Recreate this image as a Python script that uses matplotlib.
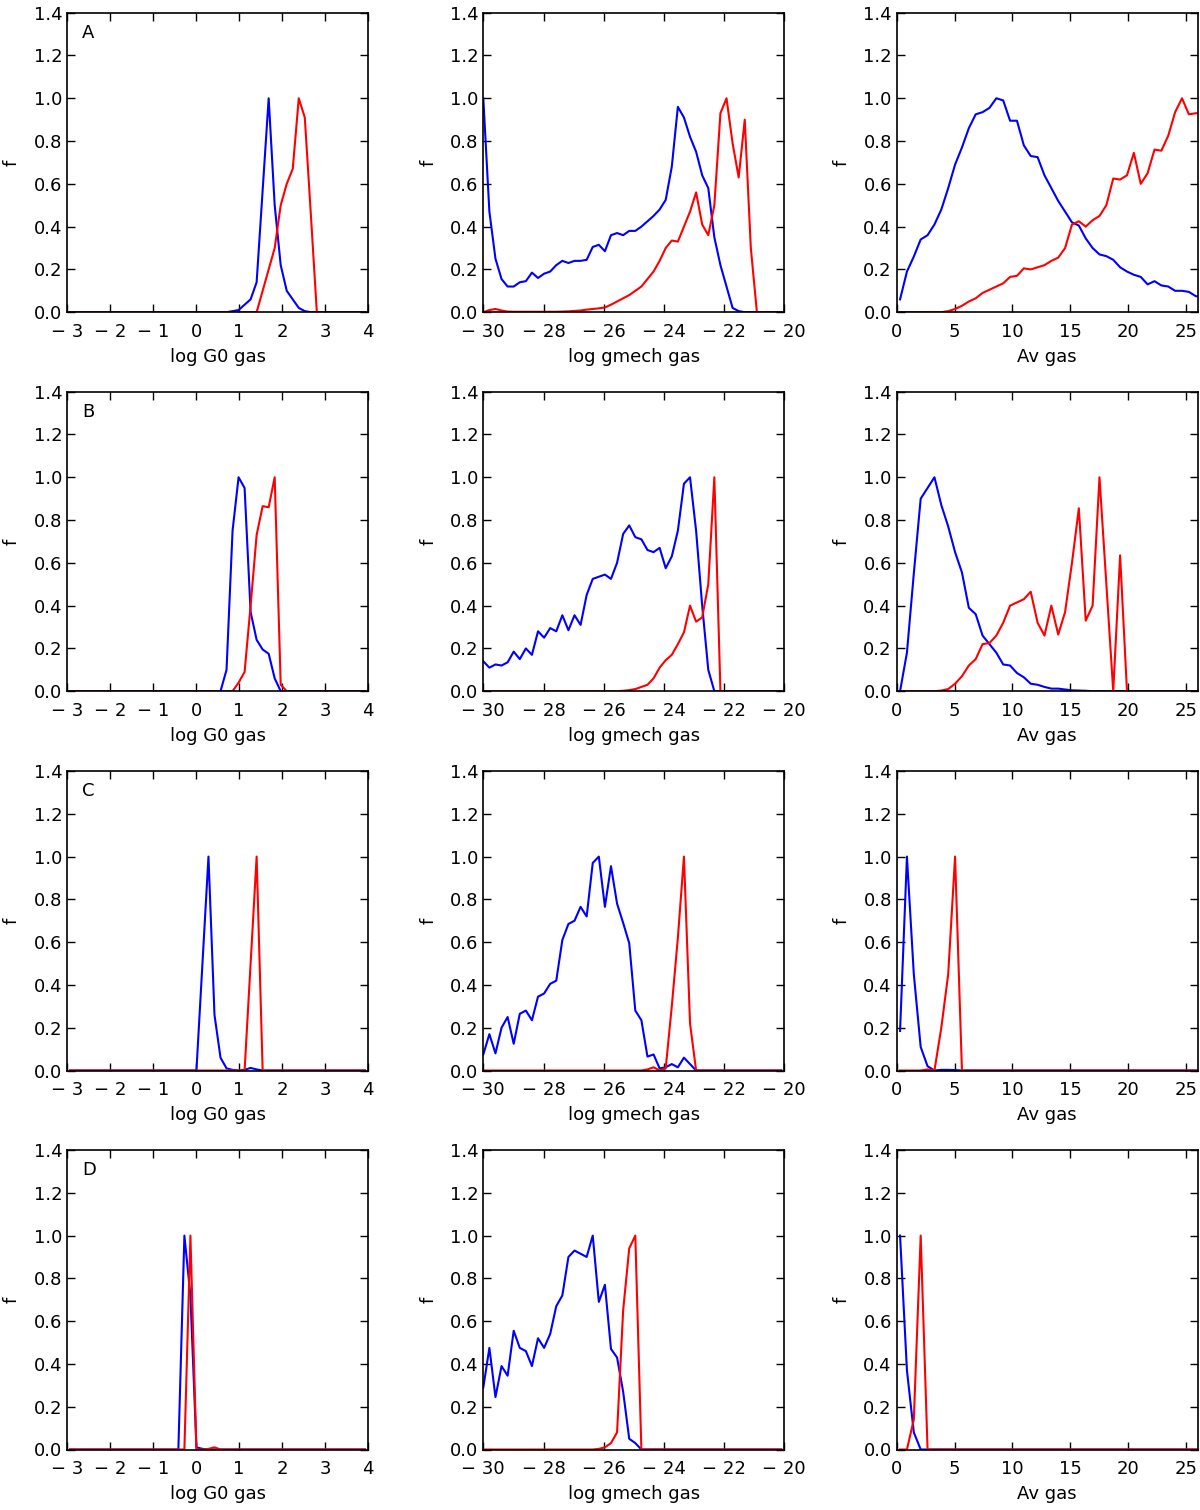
import numpy as np
import matplotlib
matplotlib.use("Agg")
import matplotlib.pyplot as plt

plt.rcParams['font.family'] = ['DejaVu Sans']

# ---- bin grids (x positions of the histogram points) ----
g0_bins = np.round(-2.93 + 0.14 * np.arange(50), 3)
gmech_bins = np.round(-30.0 + 0.202 * np.arange(50), 3)
av_bins = np.round(0.29 + 0.594 * np.arange(45), 3)

# ---- log G0 gas ----
g0_A_blue = [0]*26 + [0.0, 0.005, 0.01, 0.035, 0.06, 0.14, 0.57, 1.0, 0.5, 0.22, 0.1, 0.06, 0.02, 0.005, 0.0] + [0]*9
g0_A_red = [0]*31 + [0.0, 0.1, 0.2, 0.3, 0.5, 0.6, 0.67, 1.0, 0.91, 0.46, 0.0] + [0]*8
g0_B_blue = [0]*25 + [0.0, 0.1, 0.75, 1.0, 0.95, 0.37, 0.24, 0.195, 0.175, 0.06, 0.0] + [0]*14
g0_B_red = [0]*27 + [0.0, 0.04, 0.09, 0.4, 0.73, 0.865, 0.86, 1.0, 0.03, 0.0] + [0]*13
g0_C_blue = [0]*21 + [0.0, 0.5, 1.0, 0.26, 0.06, 0.01, 0.003, 0.0, 0.003, 0.012, 0.005, 0.0] + [0]*17
g0_C_red = [0]*29 + [0.0, 0.5, 1.0, 0.0] + [0]*17
g0_D_blue = [0]*18 + [0.0, 1.0, 0.72, 0.01, 0.003, 0.0] + [0]*26
g0_D_red = [0]*19 + [0.0, 1.0, 0.0, 0.0, 0.003, 0.01, 0.0] + [0]*24

# ---- log gmech gas ----
gm_A_blue = [1.0, 0.47, 0.25, 0.155, 0.12, 0.12, 0.14, 0.145, 0.185, 0.16,
             0.18, 0.19, 0.22, 0.24, 0.23, 0.24, 0.24, 0.245, 0.305, 0.315,
             0.285, 0.36, 0.37, 0.36, 0.38, 0.38, 0.40, 0.425, 0.45, 0.48,
             0.525, 0.68, 0.96, 0.91, 0.82, 0.75, 0.64, 0.58, 0.35, 0.22,
             0.12, 0.02, 0.005, 0.0, 0.0, 0.0, 0.0, 0.0, 0.0, 0.0]
gm_A_red = [0.0, 0.01, 0.015, 0.008, 0.003, 0.002, 0.002, 0.002, 0.002, 0.002,
            0.002, 0.002, 0.002, 0.003, 0.004, 0.006, 0.008, 0.012, 0.015, 0.018,
            0.022, 0.035, 0.05, 0.065, 0.08, 0.1, 0.12, 0.155, 0.19, 0.24,
            0.3, 0.335, 0.33, 0.4, 0.47, 0.56, 0.41, 0.36, 0.5, 0.93,
            1.0, 0.79, 0.63, 0.9, 0.3, 0.0, 0.0, 0.0, 0.0, 0.0]
gm_B_blue = [0.14, 0.11, 0.125, 0.12, 0.135, 0.185, 0.15, 0.2, 0.17, 0.28,
             0.25, 0.295, 0.28, 0.355, 0.285, 0.355, 0.31, 0.45, 0.525, 0.535,
             0.545, 0.525, 0.6, 0.735, 0.775, 0.72, 0.71, 0.66, 0.65, 0.67,
             0.575, 0.63, 0.75, 0.97, 1.0, 0.75, 0.4, 0.1, 0.0, 0.0] + [0]*10
gm_B_red = [0]*23 + [0.002, 0.005, 0.01, 0.02, 0.03, 0.06, 0.11, 0.145, 0.17,
                     0.22, 0.275, 0.4, 0.325, 0.345, 0.5, 1.0, 0.0] + [0]*10
gm_C_blue = [0.075, 0.17, 0.08, 0.2, 0.25, 0.125, 0.265, 0.28, 0.235, 0.345,
             0.36, 0.405, 0.42, 0.61, 0.685, 0.7, 0.765, 0.72, 0.97, 1.0,
             0.765, 0.955, 0.78, 0.69, 0.595, 0.28, 0.235, 0.065, 0.075, 0.01,
             0.015, 0.03, 0.015, 0.06, 0.03, 0.0] + [0]*14
gm_C_red = [0]*27 + [0.005, 0.015, 0.0, 0.01, 0.3, 0.62, 1.0, 0.22, 0.0] + [0]*14
gm_D_blue = [0.29, 0.475, 0.245, 0.39, 0.345, 0.555, 0.475, 0.46, 0.39, 0.52,
             0.475, 0.54, 0.67, 0.72, 0.9, 0.93, 0.915, 0.9, 1.0, 0.69,
             0.77, 0.47, 0.43, 0.27, 0.05, 0.03, 0.0] + [0]*23
gm_D_red = [0]*19 + [0.003, 0.01, 0.03, 0.08, 0.65, 0.94, 1.0, 0.0] + [0]*23

# ---- Av gas ----
av_A_blue = [0.06, 0.19, 0.26, 0.34, 0.36, 0.41, 0.48, 0.58, 0.69, 0.77,
             0.86, 0.925, 0.935, 0.955, 1.0, 0.99, 0.895, 0.895, 0.78, 0.73,
             0.725, 0.64, 0.58, 0.52, 0.47, 0.42, 0.405, 0.345, 0.3, 0.27,
             0.262, 0.245, 0.21, 0.19, 0.175, 0.165, 0.13, 0.145, 0.125, 0.12,
             0.1, 0.1, 0.095, 0.075, 0.07]
av_A_red = [0.0, 0.0, 0.0, 0.0, 0.0, 0.0, 0.0, 0.005, 0.015, 0.03,
            0.05, 0.065, 0.09, 0.105, 0.12, 0.135, 0.165, 0.17, 0.205, 0.2,
            0.21, 0.22, 0.24, 0.255, 0.3, 0.41, 0.425, 0.4, 0.43, 0.45,
            0.5, 0.625, 0.62, 0.64, 0.745, 0.6, 0.65, 0.76, 0.755, 0.825,
            0.935, 1.0, 0.925, 0.93, 0.93]
av_B_blue = [0.0, 0.18, 0.55, 0.9, 0.95, 1.0, 0.87, 0.77, 0.65, 0.555,
             0.39, 0.36, 0.26, 0.22, 0.18, 0.125, 0.12, 0.085, 0.065, 0.035,
             0.03, 0.02, 0.012, 0.012, 0.008, 0.004, 0.003, 0.002, 0.0, 0.0] + [0]*15
av_B_red = [0.0, 0.0, 0.0, 0.0, 0.0, 0.0, 0.003, 0.01, 0.035, 0.07,
            0.12, 0.15, 0.22, 0.225, 0.26, 0.32, 0.4, 0.415, 0.43, 0.465,
            0.32, 0.26, 0.4, 0.265, 0.37, 0.6, 0.855, 0.33, 0.4, 1.0,
            0.5, 0.0, 0.635, 0.0] + [0]*11
av_C_blue = [0.185, 1.0, 0.45, 0.11, 0.02, 0.0, 0.003, 0.003, 0.002, 0.0] + [0]*35
av_C_red = [0.0, 0.0, 0.0, 0.0, 0.005, 0.0, 0.2, 0.45, 1.0, 0.0] + [0]*35
av_D_blue = [1.0, 0.37, 0.08, 0.0] + [0]*41
av_D_red = [0.0, 0.0, 0.14, 1.0, 0.0] + [0]*40

rows = ['A', 'B', 'C', 'D']
g0_blue = [g0_A_blue, g0_B_blue, g0_C_blue, g0_D_blue]
g0_red = [g0_A_red, g0_B_red, g0_C_red, g0_D_red]
gm_blue = [gm_A_blue, gm_B_blue, gm_C_blue, gm_D_blue]
gm_red = [gm_A_red, gm_B_red, gm_C_red, gm_D_red]
av_blue = [av_A_blue, av_B_blue, av_C_blue, av_D_blue]
av_red = [av_A_red, av_B_red, av_C_red, av_D_red]

g0_ticks = [-3, -2, -1, 0, 1, 2, 3, 4]
gm_ticks = [-30, -28, -26, -24, -22, -20]
av_ticks = [0, 5, 10, 15, 20, 25]
y_ticks = [0.0, 0.2, 0.4, 0.6, 0.8, 1.0, 1.2, 1.4]


def tick_label(v):
    return ("\u2212 " + str(abs(v))) if v < 0 else str(v)


cols = [
    dict(x=g0_bins, blue=g0_blue, red=g0_red, ticks=g0_ticks, lim=(-3, 4), label='log G0 gas'),
    dict(x=gmech_bins, blue=gm_blue, red=gm_red, ticks=gm_ticks, lim=(-30, -20), label='log gmech gas'),
    dict(x=av_bins, blue=av_blue, red=av_red, ticks=av_ticks, lim=(0, 26), label='Av gas'),
]

FS = 13
W, H = 1200, 1510
fig = plt.figure(figsize=(W / 100, H / 100), dpi=100, facecolor='white')
lefts = [67, 483.3, 896.7]
tops = [12.7, 391.7, 771, 1150]
aw, ah = 301, 299.5

for r, letter in enumerate(rows):
    for c, spec in enumerate(cols):
        ax = fig.add_axes([lefts[c] / W, 1 - (tops[r] + ah) / H, aw / W, ah / H])
        ax.plot(spec['x'], spec['blue'][r], color='#0000ff', lw=1.5)
        ax.plot(spec['x'], spec['red'][r], color='#ff0000', lw=1.5)
        ax.set_xlim(*spec['lim'])
        ax.set_ylim(0, 1.4)
        ax.set_xticks(spec['ticks'])
        ax.set_xticklabels([tick_label(t) for t in spec['ticks']])
        ax.set_yticks(y_ticks)
        ax.set_yticklabels(['%.1f' % t for t in y_ticks])
        ax.tick_params(direction='in', top=True, right=True, length=6, width=1,
                       labelsize=FS, colors='black')
        ax.tick_params(axis='x', pad=7.5)
        ax.tick_params(axis='y', pad=3.5)
        for s in ax.spines.values():
            s.set_linewidth(1.2)
        ax.set_xlabel(spec['label'], fontsize=FS, labelpad=5)
        ax.set_ylabel('f', fontsize=FS, labelpad=9)
        if c == 0:
            ax.text(0.05, 0.932, letter, transform=ax.transAxes, fontsize=FS,
                    ha='left', va='center')

fig.savefig('out.png', dpi=100, facecolor='white')
